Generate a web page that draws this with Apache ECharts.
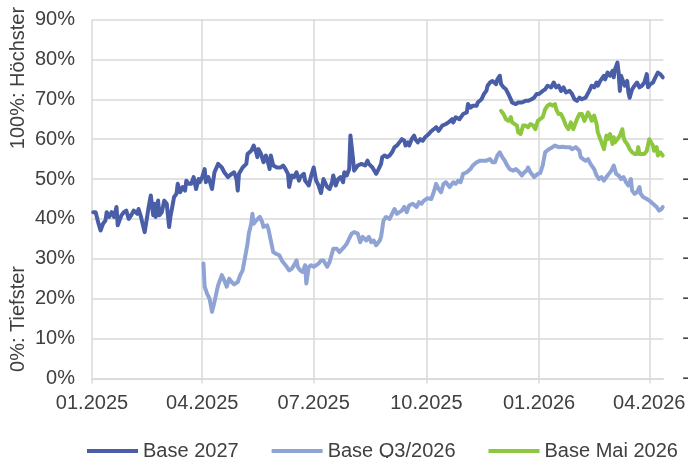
<!DOCTYPE html>
<html>
<head>
<meta charset="utf-8">
<script src="https://cdn.jsdelivr.net/npm/echarts@6/dist/echarts.min.js"></script>
<style>html,body{margin:0;padding:0;background:#fff}#c{width:692px;height:458px}</style>
</head>
<body>
<div id="c"></div>
<script>
// x values: days since 01.01.2025
const startDate = Date.UTC(2025, 0, 1);
const quarterTicks = [0, 90, 181, 273, 365, 455]; // 01.2025 .. 04.2026
const yTicks = [0, 10, 20, 30, 40, 50, 60, 70, 80, 90];
const seriesNames = ['Base 2027', 'Base Q3/2026', 'Base Mai 2026'];

const base2027 = [[1,41.7],[3,41.7],[5,39.2],[7,37.1],[9,38.8],[11,39.6],[12,41.7],[14,40.5],[16,41.7],[18,40.5],[20,43.0],[21,38.4],[24,40.9],[26,41.7],[28,42.1],[30,40.0],[32,40.9],[34,42.1],[37,41.3],[38,42.5],[40,40.5],[41,39.2],[43,36.7],[45,40.5],[46,42.5],[48,45.9],[50,40.9],[51,43.8],[52,40.5],[54,44.6],[55,40.9],[57,41.7],[59,44.6],[61,43.8],[63,38.0],[64,40.5],[66,43.8],[67,45.5],[69,46.3],[70,48.8],[72,46.7],[74,48.0],[76,47.1],[77,49.6],[79,48.8],[81,48.8],[83,50.5],[85,47.5],[87,50.0],[88,49.2],[90,50.5],[92,52.5],[93,49.2],[95,50.5],[96,49.6],[98,47.5],[100,51.7],[103,53.8],[106,52.9],[108,51.7],[111,50.5],[114,51.3],[116,51.7],[118,50.0],[119,47.1],[120,51.3],[123,52.9],[126,53.8],[127,56.3],[130,57.1],[132,58.4],[134,56.7],[135,55.5],[136,57.5],[138,56.3],[140,54.2],[142,55.9],[144,53.8],[145,52.5],[146,55.9],[148,53.4],[151,52.9],[154,52.9],[156,53.4],[158,52.5],[160,51.3],[161,48.0],[163,50.9],[165,50.5],[167,51.7],[169,49.6],[170,50.5],[173,51.3],[174,49.6],[177,48.4],[179,50.9],[181,52.9],[183,49.6],[185,48.4],[187,46.5],[189,50.0],[192,48.0],[194,47.5],[196,49.2],[197,50.9],[199,48.4],[201,50.0],[203,50.5],[205,49.2],[206,51.7],[208,50.9],[210,52.5],[211,60.9],[213,55.5],[214,52.1],[217,53.4],[218,52.9],[220,53.8],[223,53.4],[225,54.6],[226,53.8],[229,52.9],[232,51.3],[234,52.5],[236,53.8],[237,55.5],[239,55.9],[241,55.5],[243,55.9],[245,56.7],[247,58.0],[249,58.4],[251,59.2],[253,60.0],[255,59.6],[256,58.4],[258,59.2],[259,58.4],[261,60.0],[263,60.9],[264,60.0],[266,59.2],[268,60.0],[270,59.6],[272,60.5],[275,61.3],[277,62.0],[281,63.0],[283,62.1],[286,63.4],[289,63.8],[291,64.2],[294,65.0],[295,64.2],[297,65.5],[300,65.0],[303,66.3],[306,66.7],[307,68.8],[309,67.9],[311,68.4],[314,68.4],[315,69.2],[318,70.0],[320,71.3],[322,72.1],[323,73.4],[325,74.2],[327,74.6],[330,73.8],[331,75.0],[333,75.9],[334,73.8],[336,73.0],[338,72.5],[340,71.3],[342,70.0],[343,69.2],[346,68.8],[348,69.2],[351,69.2],[354,69.6],[356,69.6],[359,70.0],[361,70.4],[363,71.3],[365,71.3],[368,72.1],[370,72.5],[372,73.4],[375,73.0],[377,74.2],[379,73.0],[381,73.4],[383,72.1],[385,73.0],[387,71.7],[390,72.1],[392,71.3],[394,70.0],[396,69.6],[398,70.4],[400,70.0],[403,70.4],[404,70.0],[406,72.1],[408,73.4],[410,73.0],[412,74.2],[413,73.4],[415,74.6],[416,74.2],[418,75.9],[419,75.0],[421,76.7],[423,75.9],[425,77.1],[426,75.5],[427,77.5],[429,79.2],[430,76.7],[431,72.1],[432,75.9],[433,75.0],[435,73.4],[437,74.6],[438,71.7],[439,70.4],[441,72.5],[443,73.4],[445,74.2],[447,73.0],[449,73.4],[451,74.2],[453,76.3],[454,73.0],[456,73.8],[458,74.2],[460,75.5],[462,76.7],[464,76.3],[466,75.5]];

const baseQ32026 = [[91,28.8],[92,23.0],[94,21.2],[96,20.0],[98,16.7],[100,19.2],[102,22.1],[103,23.4],[106,25.9],[108,24.6],[110,23.0],[112,25.0],[114,24.2],[116,23.6],[119,24.2],[121,25.9],[123,27.1],[125,30.4],[127,33.8],[128,36.3],[130,38.8],[131,41.3],[132,38.8],[134,39.6],[135,40.0],[137,40.5],[139,39.2],[140,38.0],[143,38.4],[144,37.5],[146,34.6],[148,31.7],[150,31.3],[153,30.9],[155,29.6],[157,28.8],[159,28.0],[161,27.1],[163,27.5],[165,28.4],[167,29.6],[168,28.0],[170,27.1],[172,26.7],[174,28.4],[175,23.8],[177,28.0],[179,28.4],[181,28.0],[183,28.4],[185,28.8],[187,29.6],[189,29.6],[192,28.0],[194,29.2],[197,32.5],[200,32.5],[202,31.7],[206,33.0],[208,33.8],[212,36.3],[214,36.7],[217,36.3],[219,34.2],[221,35.5],[224,34.6],[226,35.5],[228,34.2],[230,34.6],[232,33.4],[235,34.6],[236,35.5],[238,39.6],[240,40.5],[243,40.0],[244,40.5],[247,42.5],[249,41.3],[251,41.7],[253,42.1],[255,43.0],[257,41.7],[259,43.4],[262,43.8],[265,43.0],[267,44.2],[269,43.8],[271,44.6],[274,45.2],[277,45.0],[279,46.7],[281,48.8],[283,47.5],[285,46.7],[287,48.8],[289,49.2],[292,48.0],[295,49.2],[297,48.8],[299,49.6],[301,49.2],[303,51.3],[306,51.7],[309,52.5],[311,53.4],[314,54.2],[317,54.6],[319,54.6],[322,54.6],[325,55.0],[327,54.2],[329,54.2],[331,55.9],[333,56.7],[335,55.5],[337,54.6],[339,53.4],[341,52.5],[344,52.1],[346,52.5],[349,51.7],[351,50.9],[353,51.7],[355,52.1],[356,52.9],[358,51.7],[361,50.5],[364,51.3],[366,51.5],[368,53.4],[370,56.7],[373,57.5],[376,58.0],[378,58.4],[381,58.0],[384,58.1],[387,58.0],[390,58.0],[392,57.5],[395,58.0],[396,57.5],[398,57.1],[399,55.5],[401,55.0],[403,54.6],[405,55.0],[407,53.8],[410,52.5],[412,50.9],[414,50.0],[416,50.5],[418,49.6],[420,50.5],[422,51.3],[424,52.1],[426,53.4],[428,51.3],[430,50.9],[432,50.0],[434,50.5],[436,49.2],[438,48.4],[440,50.0],[441,47.1],[443,46.3],[445,46.7],[447,48.0],[448,46.3],[450,45.5],[453,45.0],[455,44.6],[458,43.8],[461,43.0],[463,42.1],[465,42.5],[466,43.0]];

const baseMai2026 = [[334,67.1],[336,66.3],[338,65.0],[340,64.6],[342,65.5],[343,64.2],[345,63.8],[347,63.4],[348,61.7],[350,61.3],[352,63.4],[354,63.4],[356,63.0],[358,63.8],[360,63.5],[362,62.5],[364,64.6],[368,65.5],[370,67.5],[372,68.4],[374,68.8],[376,68.4],[378,68.8],[379,67.5],[381,66.3],[383,66.3],[385,65.0],[387,63.4],[389,62.5],[391,64.2],[393,62.5],[395,64.2],[396,65.0],[398,66.3],[400,66.3],[402,64.6],[404,65.9],[405,66.7],[407,65.5],[408,64.6],[410,65.9],[412,63.8],[413,61.7],[415,60.0],[416,59.2],[418,57.5],[420,60.9],[421,60.0],[423,61.3],[425,58.8],[426,60.5],[427,59.2],[429,60.0],[430,59.6],[431,60.9],[433,62.5],[434,60.5],[435,59.6],[437,58.8],[439,57.5],[441,56.7],[443,56.3],[445,56.3],[446,58.0],[447,56.3],[449,56.3],[451,56.3],[453,57.1],[455,60.0],[456,59.6],[458,58.4],[459,57.1],[461,58.0],[462,55.9],[464,56.7],[466,55.9]];

const FONT = '"Liberation Sans", Arial, sans-serif';
const TXT = '#404040';
const GRID = '#d9d9d9';

function fmtDay(v) {
  const d = new Date(startDate + v * 86400000);
  const m = d.getUTCMonth() + 1;
  return (m < 10 ? '0' : '') + m + '.' + d.getUTCFullYear();
}

const chart = echarts.init(document.getElementById('c'), null, {renderer: 'canvas'});
const colors = ['#4a5ea8', '#8fa3d5', '#8dc63f'];
const datasets = [base2027, baseQ32026, baseMai2026];

chart.setOption({
  animation: false,
  textStyle: {fontFamily: FONT},
  grid: {left: 92, right: 20, top: 19.5, bottom: 79.5, containLabel: false},
  xAxis: {
    type: 'value', min: 0, max: 466.5,
    axisLine: {show: true, lineStyle: {color: GRID, width: 1.5}},
    axisTick: {show: true, length: 5, lineStyle: {color: GRID, width: 1.5}, customValues: quarterTicks},
    axisLabel: {customValues: quarterTicks, formatter: fmtDay, color: TXT, fontSize: 20, fontFamily: FONT, margin: 15, hideOverlap: false},
    splitLine: {show: true, lineStyle: {color: GRID, width: 1.5}}
  },
  yAxis: [{
    type: 'value', min: 0, max: 90, interval: 10,
    axisLine: {show: false}, axisTick: {show: false},
    axisLabel: {formatter: '{value}%', color: TXT, fontSize: 20, fontFamily: FONT, margin: 17},
    splitLine: {show: true, lineStyle: {color: GRID, width: 1.5}}
  }, {
    type: 'value', min: 0, max: 90, interval: 10, position: 'right',
    axisLine: {show: false}, axisTick: {show: false}, splitLine: {show: false},
    axisLabel: {formatter: v => (v <= 60 ? '-' : ''), color: TXT, fontSize: 20, fontFamily: FONT, margin: 19, align: 'left'}
  }],
  legend: {
    left: 87, top: 441, padding: 0, itemGap: 33, itemWidth: 51, itemHeight: 4,
    icon: 'rect',
    textStyle: {color: TXT, fontSize: 20, fontFamily: FONT},
    data: seriesNames
  },
  graphic: [
    {type: 'text', x: 18, y: 78, rotation: Math.PI / 2,
     style: {text: '100%: Höchster', font: '20px ' + FONT, fill: TXT, align: 'center', verticalAlign: 'middle'}},
    {type: 'text', x: 18, y: 319, rotation: Math.PI / 2,
     style: {text: '0%: Tiefster', font: '20px ' + FONT, fill: TXT, align: 'center', verticalAlign: 'middle'}}
  ],
  series: seriesNames.map((n, i) => ({
    name: n, type: 'line', data: datasets[i], symbol: 'none', showSymbol: false,
    color: colors[i],
    itemStyle: {color: colors[i]},
    lineStyle: {width: 4, color: colors[i], join: 'round', cap: 'round'},
    z: 3 - i
  }))
});
</script>
</body>
</html>
